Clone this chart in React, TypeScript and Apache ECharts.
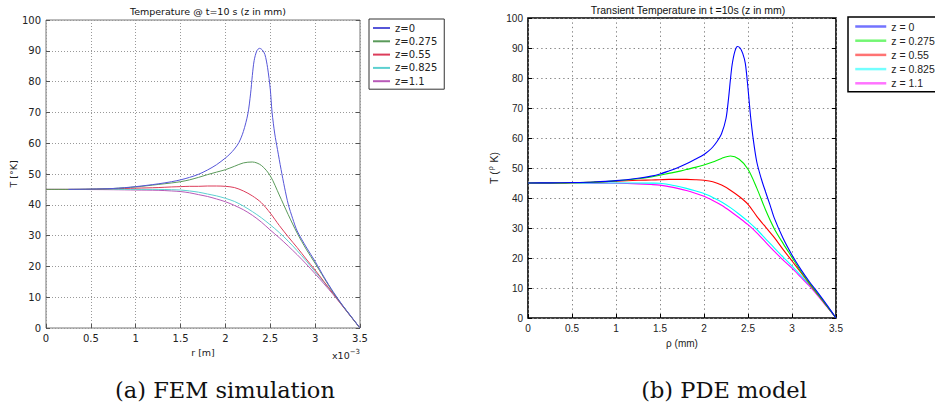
import React, { useEffect, useRef } from "react";
import * as echarts from "echarts";

// ---- shared sample positions (mm) ----
const xCommon = [0,0.25,0.5,0.75,1.0,1.25,1.4,1.5,1.6,1.7,1.8,1.9,2.0,2.1,2.2,2.3,2.4,2.5,2.6,2.7,2.8,2.9,3.0,3.1,3.2,3.3,3.4,3.5];

// ---- FEM simulation (left): r [m] x10^-3 ----
const femNames = ["z=0", "z=0.275", "z=0.55", "z=0.825", "z=1.1"];
const femBlueX = [0.25,0.5,0.75,1.0,1.25,1.4,1.5,1.6,1.7,1.8,1.9,2.0,2.05,2.1,2.15,2.2,2.25,2.28,2.3,2.32,2.35,2.38,2.41,2.44,2.47,2.5,2.52,2.55,2.58,2.62,2.66,2.7,2.75,2.8,2.9,3.0,3.1,3.2,3.3,3.4,3.5];
const femZ0 = [45.0,45.1,45.3,45.9,46.8,47.5,48.1,48.9,49.9,51.3,53.0,55.2,56.5,58.1,60.2,63.8,69.5,76,82,86.8,90.0,90.8,90.3,88.8,84.5,77.5,70,63,58,51.5,45.5,40.2,35.5,31.5,26.3,21.6,16.5,11.8,7.6,3.8,0];
const femZ0275 = [45,45,45.1,45.3,45.8,46.6,47.1,47.5,48.1,48.9,49.8,50.6,51.4,52.5,53.6,53.9,52.8,49.4,43.2,36.8,30.8,25.6,21.0,16.2,11.6,7.5,3.7,0];
const femZ055 = [45,45,45.05,45.2,45.4,45.6,45.8,45.9,46.0,46.0,46.1,46.1,46.0,45.6,44.5,42.9,40.7,37.3,33.3,29.6,26.1,22.4,18.8,15.0,11.2,7.4,3.7,0];
const femZ0825 = [45,45,45,45,45,45,44.9,44.8,44.5,44.1,43.5,42.9,42.1,41.1,39.6,37.8,35.8,33.5,31.0,28.2,25.1,21.8,18.3,14.8,11.2,7.5,3.7,0];
const femZ11 = [45,45,44.95,44.9,44.8,44.7,44.5,44.3,43.9,43.3,42.7,41.9,41.0,39.8,38.4,36.6,34.4,31.8,29.3,26.6,23.8,20.8,17.6,14.3,10.9,7.3,3.6,0];

// ---- PDE model (right): rho (mm) ----
const pdeNames = ["z = 0", "z = 0.275", "z = 0.55", "z = 0.825", "z = 1.1"];
const pdeBlueX = [0,0.25,0.5,0.75,1.0,1.25,1.4,1.5,1.6,1.7,1.8,1.9,2.0,2.05,2.1,2.15,2.2,2.25,2.28,2.3,2.32,2.35,2.38,2.41,2.44,2.47,2.5,2.53,2.56,2.6,2.65,2.7,2.75,2.8,2.9,3.0,3.1,3.2,3.3,3.4,3.5];
const pdeZ0 = [45,45.05,45.15,45.35,45.8,46.6,47.3,48.0,49.0,50.1,51.4,52.9,54.5,55.6,57.0,58.9,61.5,66.5,73.5,79.4,84.5,88.8,90.5,90.0,88.2,84.8,76.5,67,59.5,52,46.5,42.0,37.7,33.2,26.5,21.0,16.2,12.0,8.2,4.2,0];
const pdeZ0275 = [45,45,45.1,45.3,45.7,46.4,47.0,47.6,48.2,48.8,49.5,50.2,51.0,52.0,53.2,54.0,52.9,49.6,43.3,36.0,29.7,24.8,20.2,15.6,11.6,7.8,3.9,0];
const pdeZ055 = [45,45,45.1,45.3,45.6,45.9,46.0,46.1,46.2,46.2,46.2,46.1,45.9,45.4,44.3,42.6,40.5,37.9,33.9,30.3,26.8,22.8,19.0,15.2,11.3,7.6,3.8,0];
const pdeZ0825 = [45,45,45,45,45,45,44.95,44.9,44.5,43.9,43.2,42.4,41.5,40.2,38.7,36.8,34.6,32.2,29.5,26.4,23.3,20.3,17.3,14.2,11.0,7.5,3.8,0];
const pdeZ11 = [45,45,45,44.95,44.9,44.7,44.5,44.3,43.8,43.2,42.5,41.6,40.6,39.2,37.6,35.6,33.4,31.1,28.4,25.3,22.2,19.3,16.6,13.6,10.6,7.2,3.6,0];

const femColors = ["#5656d8", "#5a9a5a", "#dc3c5a", "#5cd0d0", "#b85ab8"];
const pdeColors = ["#0000ff", "#00ee00", "#ff0000", "#00ffff", "#ff00ff"];

const SANS_L = "DejaVu Sans";
const SANS_R = "Liberation Sans";
const SERIF = "DejaVu Serif";

const zip = (xs: number[], ys: number[]) => ys.map((y, i) => [xs[i], y]);

export default function App() {
  const ref = useRef<HTMLDivElement>(null);
  useEffect(() => {
    const chart = echarts.init(ref.current!, null, { renderer: "svg" });
    const femData = [zip(femBlueX, femZ0), zip(xCommon, femZ0275), zip(xCommon, femZ055), zip(xCommon, femZ0825), zip(xCommon, femZ11)];
    const pdeData = [zip(pdeBlueX, pdeZ0), zip(xCommon, pdeZ0275), zip(xCommon, pdeZ055), zip(xCommon, pdeZ0825), zip(xCommon, pdeZ11)];

    const xBase = (gi: number, font: string, color: string, split: any) => ({
      type: "value", gridIndex: gi, min: 0, max: 3.5, interval: 0.5,
      axisLine: { show: false }, axisTick: { show: true, inside: true, length: 4, lineStyle: { color } },
      axisLabel: { fontFamily: font, fontSize: 10, color: "#222", margin: 5 },
      splitLine: split,
    });
    const yBase = (gi: number, font: string, color: string, split: any) => ({
      type: "value", gridIndex: gi, min: 0, max: 100, interval: 10,
      axisLine: { show: false }, axisTick: { show: true, inside: true, length: 4, lineStyle: { color } },
      axisLabel: { fontFamily: font, fontSize: 10, color: "#222", margin: 5 },
      splitLine: split,
    });
    const splitL = { show: true, lineStyle: { color: "#999", type: [1, 2], width: 1 } };
    const splitR = { show: true, lineStyle: { color: "#888", type: [1.4, 3], width: 1 } };

    const option: any = {
      animation: false,
      title: [
        { text: "Temperature @ t=10 s (z in mm)", left: 203, top: 1, textAlign: "center",
          textStyle: { fontFamily: SANS_L, fontSize: 9.5, fontWeight: "normal", color: "#111" } },
        { text: "Transient Temperature in t =10s (z in mm)", left: 683, top: -1, textAlign: "center",
          textStyle: { fontFamily: SANS_R, fontSize: 10.5, fontWeight: "normal", color: "#111" } },
      ],
      grid: [
        { left: 46, top: 20, width: 314, height: 308, show: true, borderColor: "#777", borderWidth: 1, backgroundColor: "transparent" },
        { left: 528, top: 18, width: 308, height: 300, show: true, borderColor: "#000", borderWidth: 1.6, backgroundColor: "transparent" },
      ],
      xAxis: [
        { ...xBase(0, SANS_L, "#555", splitL), name: "r [m]", nameLocation: "middle", nameGap: 19,
          nameTextStyle: { fontFamily: SANS_L, fontSize: 9.5, color: "#222" } },
        { ...xBase(1, SANS_R, "#000", splitR), name: "ρ (mm)", nameLocation: "middle", nameGap: 20,
          nameTextStyle: { fontFamily: SANS_R, fontSize: 10, color: "#222" } },
      ],
      yAxis: [
        { ...yBase(0, SANS_L, "#555", splitL), name: "T [°K]", nameLocation: "middle", nameGap: 22, nameRotate: 90,
          nameTextStyle: { fontFamily: SANS_L, fontSize: 9.5, color: "#222" } },
        { ...yBase(1, SANS_R, "#000", splitR), name: "{a|T (}{s|ρ}{a| K)}", nameLocation: "middle", nameGap: 27, nameRotate: 90,
          nameTextStyle: { fontFamily: SANS_R, fontSize: 10.5, color: "#222",
            rich: { a: { fontFamily: SANS_R, fontSize: 10.5, color: "#222" },
                    s: { fontFamily: SANS_R, fontSize: 7, color: "#222", padding: [0, 1, 7, 1] } } } },
        { ...yBase(0, SANS_L, "#555", { show: false }), position: "right", axisLabel: { show: false } },
        { ...yBase(1, SANS_R, "#000", { show: false }), position: "right", axisLabel: { show: false } },
      ],
      legend: [
        { orient: "vertical", left: 369, top: 19, padding: [4, 7, 3, 3], itemWidth: 17, itemHeight: 10, itemGap: 3.3,
          borderColor: "#333", borderWidth: 1, backgroundColor: "#fff", itemStyle: { opacity: 0 },
          textStyle: { fontFamily: SANS_L, fontSize: 10, color: "#222" }, data: femNames },
        { orient: "vertical", left: 848, top: 17, padding: [4, 12, 3, 6], itemWidth: 31, itemHeight: 10, itemGap: 3.2,
          borderColor: "#000", borderWidth: 1.5, backgroundColor: "#fff", itemStyle: { opacity: 0 },
          lineStyle: { width: 2.5, opacity: 0.55 },
          textStyle: { fontFamily: SANS_R, fontSize: 10.5, color: "#222" }, data: pdeNames },
      ],
      series: [
        ...femData.map((d, i) => ({
          type: "line", name: femNames[i], xAxisIndex: 0, yAxisIndex: 0, data: d, showSymbol: false, symbol: "none",
          smooth: 0.3, lineStyle: { color: femColors[i], width: 1 }, itemStyle: { color: femColors[i] },
          z: 10 - i,
        })),
        ...pdeData.map((d, i) => ({
          type: "line", name: pdeNames[i], xAxisIndex: 1, yAxisIndex: 1, data: d, showSymbol: false, symbol: "none",
          smooth: 0.3, lineStyle: { color: pdeColors[i], width: 1.1 }, itemStyle: { color: pdeColors[i] },
          z: 10 - i,
        })),
      ],
      graphic: [
        { type: "text", left: 332, top: 348,
          style: { text: "x10{s|−3}", fontFamily: SANS_L, fontSize: 9.5, fill: "#222",
            rich: { s: { fontSize: 7, fontFamily: SANS_L, fill: "#222", padding: [0, 0, 7, 0] } } } },
        { type: "text", x: 225, y: 390, style: { text: "(a) FEM simulation", fontFamily: SERIF, fontSize: 22.5, fill: "#111", align: "center", verticalAlign: "middle" } },
        { type: "text", x: 724, y: 390, style: { text: "(b) PDE model", fontFamily: SERIF, fontSize: 22.5, fill: "#111", align: "center", verticalAlign: "middle" } },
      ],
    };
    chart.setOption(option);
    return () => chart.dispose();
  }, []);
  return <div ref={ref} style={{ position: "absolute", left: 0, top: 0, width: 935, height: 408, background: "#fff" }} />;
}
